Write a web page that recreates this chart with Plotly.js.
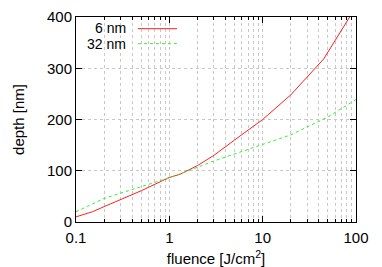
<!DOCTYPE html>
<html><head><meta charset="utf-8">
<script src="https://cdn.plot.ly/plotly-3.0.1.min.js"></script>
<style>body{margin:0;padding:0;background:#fff}#c{width:382px;height:267px}</style>
</head><body><div id="c"></div>
<script>
var seriesNames = ["6 nm", "32 nm"];
var fluence6 = [0.1, 0.15, 0.2, 0.5, 1, 1.3, 2, 3, 5, 10, 20, 30, 45, 100];
var depth6 = [10, 20, 30, 61, 87, 93, 110, 130, 160, 200, 248, 283, 318, 420];
var fluence32 = [0.1, 0.2, 0.5, 1, 3, 10, 20, 50, 100];
var depth32 = [20, 46, 69, 86, 119, 152, 170, 205, 239];
var xTickVals = [0.1, 1, 10, 100];
var xTickText = ["0.1", "1", "10", "100"];
var yTickVals = [0, 100, 200, 300, 400];

var font = {family: "Liberation Sans, Arial, sans-serif", size: 15, color: "#000"};
var legFont = {family: "Liberation Sans, Arial, sans-serif", size: 14, color: "#000"};
var red = "#ff2020", green = "#33ee33";
var traces = [
  {x: fluence6, y: depth6, mode: "lines", name: seriesNames[0], line: {color: red, width: 1}},
  {x: fluence32, y: depth32, mode: "lines", name: seriesNames[1], line: {color: green, width: 1, dash: "dot"}}
];
var grid = "#c8c8c8";
var layout = {
  width: 382, height: 267,
  margin: {l: 76, r: 26, t: 17, b: 45},
  paper_bgcolor: "#fff", plot_bgcolor: "#fff",
  font: font,
  showlegend: false,
  xaxis: {
    type: "log", range: [-1, 2],
    tickvals: xTickVals, ticktext: xTickText,
    ticks: "inside", ticklen: 6, tickcolor: "#000",
    ticklabelstandoff: 2,
    showline: true, linecolor: "#000", linewidth: 1, mirror: "ticks",
    showgrid: true, gridcolor: grid, griddash: "dot", gridwidth: 1,
    minor: {dtick: "D1", ticks: "inside", ticklen: 3, tickcolor: "#000", showgrid: true, gridcolor: grid, griddash: "dot", gridwidth: 1},
    zeroline: false,
    title: {text: "fluence [J/cm<sup>2</sup>]", font: font, standoff: 10},
    tickfont: font
  },
  yaxis: {
    range: [0, 400],
    tickvals: yTickVals,
    ticks: "inside", ticklen: 6, tickcolor: "#000",
    showline: true, linecolor: "#000", linewidth: 1, mirror: "ticks",
    showgrid: true, gridcolor: grid, griddash: "dot", gridwidth: 1,
    zeroline: false,
    title: {text: "depth [nm]", font: font, standoff: 18},
    tickfont: font
  },
  shapes: [
    {type: "rect", xref: "paper", yref: "paper", x0: 0.003, x1: 0.39, y0: 0.84, y1: 0.997, fillcolor: "#fff", line: {width: 0}, layer: "between"},
    {type: "line", xref: "paper", yref: "paper", x0: 0.221, x1: 0.361, y0: 0.943, y1: 0.943, line: {color: red, width: 1}},
    {type: "line", xref: "paper", yref: "paper", x0: 0.221, x1: 0.361, y0: 0.870, y1: 0.870, line: {color: green, width: 1, dash: "dot"}}
  ],
  annotations: [
    {xref: "paper", yref: "paper", x: 0.186, y: 0.946, xanchor: "right", yanchor: "middle", text: seriesNames[0], showarrow: false, font: legFont},
    {xref: "paper", yref: "paper", x: 0.186, y: 0.867, xanchor: "right", yanchor: "middle", text: seriesNames[1], showarrow: false, font: legFont}
  ]
};
Plotly.newPlot("c", traces, layout, {displayModeBar: false, staticPlot: true});
</script></body></html>
